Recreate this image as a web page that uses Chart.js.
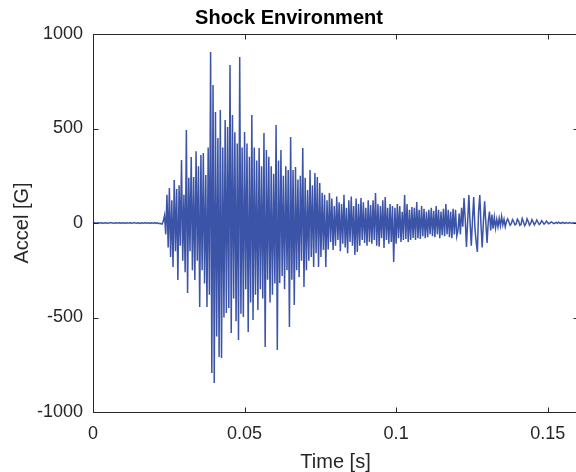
<!DOCTYPE html>
<html>
<head>
<meta charset="utf-8">
<script src="https://cdn.jsdelivr.net/npm/chart.js@4/dist/chart.umd.min.js"></script>
<style>
  html, body { margin: 0; padding: 0; background: #fff; overflow: hidden; }
  #wrap { width: 576px; height: 472px; overflow: hidden; }
</style>
</head>
<body>
<div id="wrap"><canvas id="myChart" width="580" height="472"></canvas></div>
<script>
// sampled shock record, acceleration in G, one value per sample
const sampleInterval = 0.0004   // s

const preTrigger = [0,1,0,-1,1,0,0,1,-1,0, 1,0,-1,0,1,1,0,-1,0,1,
  0,0,1,-1,0,1,0,-1,1,0, 0,1,-1,0,2,0,-1,1,0,-2,
  1,0,-1,2,-1,0,1,-2,1,0, -1,2,-2,1,-3,-2,-4,-6]

const onset = [10,40,-60,150,-130,185,-180,120,-233,227,
  -150,180,-301,200,-120,333,-200,150,-260,492,
  -370,240,-150,349,-250,243,-301,380,-200,300,
  -444,360,-250,370,-320,254,-444,400,-380]

const peakZone = [905,-794,730,-846,587,-600,450,-709,598,-714,
  400,-500,545,-476,508,-450,836,-582,571,
  -400,480,-520,420,-619,878,-480,400,-497,481,
  -350,420,-577,350,-420,571,-513,400,-380,330,
  -460,397,-350,300,-400,476,-656,386,-300,350,
  -420,300,-380,260,-320,518,-672,330,-317,386]

const midDecay = [-280,250,-350,300,-250,280,-550,455,-300,280,
  -434,296,-250,230,-286,250,-200,397,-338,240,
  -250,175,-200,280,-180,200,-233,264,-160,243,
  -233,212,-180,160,-143,150,-233,120,-140,159,
  -100,130,-143,90,-120,140,-90,110,-150,100,
  -110,150,-130,80,-160,120,-100,140,-120,90,
  -169,130,-153,100,-120,132,-90,110,-106,80,
  -120,120,-100,95,-110,120,-90,159,-120,100,
  -125,90,-80,120,-132,138,-90,80,-110,100,
  -100,90,-206,80,-110,100,-80,90,-100,60]

const lateDecay = [-90,148,-85,100,-100,70,-90,85,-79,80,
  -90,111,-80,70,-85,90,-70,75,-80,60,
  -75,70,-60,80,-70,65,-75,90,-60,70,
  -80,60,-65,75,-70,100,-60,70,-75,60,
  -80,75,-60,70,-70,-40,50,-60,80,-20,
  132,20,-127,10,148,0,-120,20,138,-30,
  -100,-153,60,148,-10,-130,10,115,0,-106,
  10,60,-40,45,-30,32,-26,20,-20,25,
  -15,35,-10,20,-20]

const ringDown = [8,22,5,-12,-4,18,8,-10,-6,20,
  10,-12,-8,24,6,-14,-4,22,8,-12,
  -2,18,6,-10,0,16,4,-8,-2,12,
  4,-6,0,10,2,-4,0,6,2,-3,
  0,3,-2,4,0,-2,3,1,-2,2,
  0,-1,2,0,-1,1,0,0,1,0]

const xTicks = [0, 0.05, 0.1, 0.15]
const yTicks = [-1000, -500, 0, 500, 1000]

const accel = preTrigger.concat(onset, peakZone, midDecay, lateDecay, ringDown)
const points = accel.map((a, i) => ({x: i * sampleInterval, y: a}))

const axisColor = '#262626'
const fontFamily = '"Liberation Sans", Arial, Helvetica, sans-serif'

// MATLAB style box with inward tick marks
const boxPlugin = {
  id: 'box',
  afterDraw(chart) {
    const c = chart.ctx
    const a = chart.chartArea
    const xs = chart.scales.x, ys = chart.scales.y
    const L = Math.round(a.left) + 0.5, R = Math.round(a.right) + 0.5
    const T = Math.round(a.top) + 0.5, B = Math.round(a.bottom) + 0.5
    c.save()
    c.strokeStyle = axisColor
    c.lineWidth = 1
    c.beginPath()
    c.rect(L, T, R - L, B - T)
    xTicks.forEach(v => {
      const px = Math.round(xs.getPixelForValue(v)) + 0.5
      c.moveTo(px, B); c.lineTo(px, B - 5)
      c.moveTo(px, T); c.lineTo(px, T + 5)
    })
    yTicks.forEach(v => {
      const py = Math.round(ys.getPixelForValue(v)) + 0.5
      c.moveTo(L, py); c.lineTo(L + 5, py)
      c.moveTo(R, py); c.lineTo(R - 5, py)
    })
    c.stroke()
    c.restore()
  }
}

const ctx = document.getElementById('myChart')
new Chart(ctx, {
  type: 'line',
  data: {
    datasets: [{
      data: points,
      borderColor: 'rgb(60, 84, 168)',
      borderWidth: 1.5,
      pointRadius: 0,
      tension: 0,
      fill: false
    }]
  },
  options: {
    responsive: false,
    animation: false,
    devicePixelRatio: 1,
    layout: { padding: { left: 0, right: 2, top: 0, bottom: 0 } },
    plugins: {
      legend: { display: false },
      tooltip: { enabled: false },
      title: {
        display: true,
        text: 'Shock Environment',
        color: '#000',
        font: { family: fontFamily, size: 20, weight: 'bold' },
        padding: { top: 6, bottom: 4 }
      }
    },
    scales: {
      x: {
        type: 'linear',
        min: 0,
        max: 0.16,
        afterFit(scale) { scale.height = 60 },
        grid: { display: false, drawTicks: false },
        border: { display: false },
        ticks: {
          stepSize: 0.05,
          includeBounds: false,
          autoSkip: false,
          maxRotation: 0,
          padding: 11,
          color: axisColor,
          font: { family: fontFamily, size: 18 },
          callback: v => String(+v.toFixed(2))
        },
        title: {
          display: true,
          text: 'Time [s]',
          color: axisColor,
          font: { family: fontFamily, size: 20 },
          padding: { top: 0, bottom: -2 }
        }
      },
      y: {
        min: -1000,
        max: 1000,
        afterFit(scale) { scale.width = 93 },
        grid: { display: false, drawTicks: false },
        border: { display: false },
        ticks: {
          stepSize: 500,
          padding: 10,
          color: axisColor,
          font: { family: fontFamily, size: 18 },
          callback: v => String(v)
        },
        title: {
          display: true,
          text: 'Accel [G]',
          color: axisColor,
          font: { family: fontFamily, size: 20 },
          padding: { top: 10, bottom: 0 }
        }
      }
    }
  },
  plugins: [boxPlugin]
})
</script>
</body>
</html>
